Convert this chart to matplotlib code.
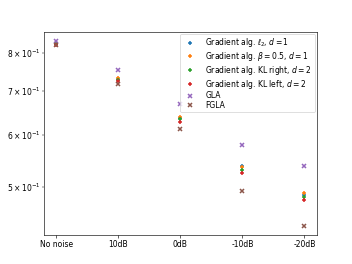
import matplotlib
matplotlib.use("Agg")
import matplotlib.pyplot as plt

conditions = ["No noise", "10dB", "0dB", "-10dB", "-20dB"]

grad_l2 = [0.826, 0.731, 0.637, 0.539, 0.487]
grad_beta = [0.827, 0.734, 0.640, 0.536, 0.490]
grad_kl_right = [0.825, 0.729, 0.635, 0.532, 0.483]
grad_kl_left = [0.824, 0.726, 0.629, 0.525, 0.478]
gla = [0.835, 0.753, 0.669, 0.580, 0.539]
fgla = [0.822, 0.718, 0.613, 0.494, 0.437]

x = list(range(len(conditions)))

plt.figure(figsize=(6.4, 4.8), dpi=55)
plt.plot(x, grad_l2, "+", mew=2, label=r"Gradient alg. $\ell_2$, $d=1$")
plt.plot(x, grad_beta, "+", mew=2, label=r"Gradient alg. $\beta=0.5$, $d=1$")
plt.plot(x, grad_kl_right, "+", mew=2, label=r"Gradient alg. KL right, $d=2$")
plt.plot(x, grad_kl_left, "+", mew=2, label=r"Gradient alg. KL left, $d=2$")
plt.plot(x, gla, "x", mew=2, color="C4", label="GLA")
plt.plot(x, fgla, "x", mew=2, color="C5", label="FGLA")

plt.yscale("log")
plt.xticks(x, conditions)
plt.legend(loc="upper right", labelspacing=0.1, borderpad=0.3,
           borderaxespad=0.3, handletextpad=1.0)
plt.savefig("out.png", dpi=55)
